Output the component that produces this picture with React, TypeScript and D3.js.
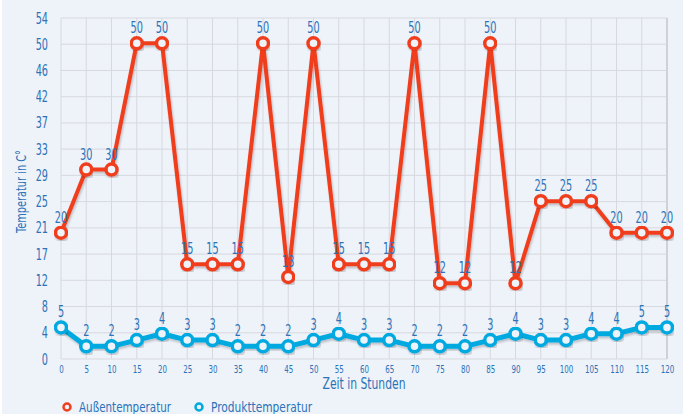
import { useEffect, useRef } from 'react';
import * as d3 from 'd3';

const hours = [0, 5, 10, 15, 20, 25, 30, 35, 40, 45, 50, 55, 60, 65, 70, 75, 80, 85, 90, 95, 100, 105, 110, 115, 120];
const aussen = [20, 30, 30, 50, 50, 15, 15, 15, 50, 13, 50, 15, 15, 15, 50, 12, 12, 50, 12, 25, 25, 25, 20, 20, 20];
const produkt = [5, 2, 2, 3, 4, 3, 3, 2, 2, 2, 3, 4, 3, 3, 2, 2, 2, 3, 4, 3, 3, 4, 4, 5, 5];
const yTickLabels = ['0', '4', '8', '12', '17', '21', '25', '29', '33', '37', '42', '46', '50', '54'];
const seriesNames = ['Außentemperatur', 'Produkttemperatur'];
const seriesColors = ['#f03e1f', '#00a9e0'];

const FONT = "'DejaVu Sans Condensed', 'Liberation Sans Narrow', 'Roboto', sans-serif";
const TEXT = '#2b73b8';
const SX = 0.72; // squeeze to mimic the condensed face

function App() {
  const ref = useRef<SVGSVGElement>(null);

  useEffect(() => {
    const W = 686, H = 414;
    const margin = { top: 18, right: 19, bottom: 55, left: 61 };
    const width = W - margin.left - margin.right;
    const height = H - margin.top - margin.bottom;

    const svg = d3.select(ref.current);
    svg.selectAll('*').remove();

    svg.append('rect').attr('width', W).attr('height', H).attr('fill', '#ffffff');
    svg.append('rect').attr('x', 2).attr('width', 681).attr('height', H).attr('fill', '#eef2f9');

    const defs = svg.append('defs');
    defs.append('filter').attr('id', 'shadow').attr('x', '-10%').attr('y', '-10%').attr('width', '120%').attr('height', '130%')
      .append('feDropShadow').attr('dx', 1).attr('dy', 2).attr('stdDeviation', 1.2).attr('flood-color', '#000').attr('flood-opacity', 0.22);

    const g = svg.append('g').attr('transform', `translate(${margin.left}, ${margin.top})`);

    const x = d3.scaleLinear().domain([0, 120]).range([0, width]);
    const y = d3.scaleLinear().domain([0, 54]).range([height, 0]);
    const yTickVals = yTickLabels.map((_, i) => (i * 54) / (yTickLabels.length - 1));

    // grid
    g.append('g').selectAll('line').data(hours).join('line')
      .attr('x1', (d) => x(d)).attr('x2', (d) => x(d)).attr('y1', 0).attr('y2', height)
      .attr('stroke', '#d7d9de').attr('stroke-width', 1);
    g.append('g').selectAll('line').data(yTickVals).join('line')
      .attr('x1', 0).attr('x2', width).attr('y1', (d) => y(d)).attr('y2', (d) => y(d))
      .attr('stroke', '#d7d9de').attr('stroke-width', 1);
    g.append('line').attr('x1', width).attr('x2', width).attr('y1', 0).attr('y2', height)
      .attr('stroke', '#cfd1d6').attr('stroke-width', 2);

    // axes
    const xAxis = g.append('g').attr('transform', `translate(0, ${height})`)
      .call(d3.axisBottom(x).tickValues(hours).tickSize(0).tickPadding(0).tickFormat((d) => String(d)));
    xAxis.select('.domain').remove();
    xAxis.selectAll('text').attr('y', null).attr('dy', null)
      .attr('transform', `translate(0, 14) scale(${SX}, 1)`)
      .attr('fill', TEXT).attr('font-size', 11).attr('font-family', FONT);

    const yAxis = g.append('g')
      .call(d3.axisLeft(y).tickValues(yTickVals).tickSize(0).tickPadding(0).tickFormat((_, i) => yTickLabels[i]));
    yAxis.select('.domain').remove();
    yAxis.selectAll('text').attr('x', null).attr('dy', null)
      .attr('transform', `translate(-13, 5) scale(${SX}, 1)`)
      .attr('fill', TEXT).attr('font-size', 15).attr('font-family', FONT);

    g.append('text').attr('x', width / 2).attr('y', height + 30).attr('text-anchor', 'middle')
      .attr('textLength', 83).attr('lengthAdjust', 'spacingAndGlyphs')
      .attr('fill', TEXT).attr('font-size', 15).attr('font-family', FONT).text('Zeit in Stunden');
    g.append('text').attr('transform', `translate(${26 - margin.left}, ${height / 2 + 3}) rotate(-90)`)
      .attr('text-anchor', 'middle').attr('textLength', 83).attr('lengthAdjust', 'spacingAndGlyphs')
      .attr('fill', TEXT).attr('font-size', 14).attr('font-family', FONT)
      .text('Temperatur in C°');

    const series = [aussen, produkt];
    const line = d3.line<number>().x((_, i) => x(hours[i])).y((d) => y(d));

    series.forEach((vals, s) => {
      const sg = g.append('g');
      sg.append('path').datum(vals).attr('d', line).attr('fill', 'none')
        .attr('stroke', seriesColors[s]).attr('stroke-width', s === 0 ? 4 : 5)
        .attr('stroke-linejoin', 'round').attr('filter', 'url(#shadow)');
      sg.selectAll('circle').data(vals).join('circle')
        .attr('cx', (_, i) => x(hours[i])).attr('cy', (d) => y(d)).attr('r', 5.5)
        .attr('fill', '#eef2f9').attr('stroke', seriesColors[s]).attr('stroke-width', 3.5)
        .attr('filter', 'url(#shadow)');
      sg.selectAll('text').data(vals).join('text')
        .attr('transform', (d, i) => `translate(${x(hours[i])}, ${y(d) - 10}) scale(${SX}, 1)`)
        .attr('text-anchor', 'middle').attr('fill', TEXT).attr('font-size', 15).attr('font-family', FONT)
        .text((d) => d);
    });

    // legend
    const legendX = [67, 199];
    const legendLen = [92, 101];
    const leg = svg.append('g');
    seriesNames.forEach((name, i) => {
      leg.append('circle').attr('cx', legendX[i]).attr('cy', 407).attr('r', 3.5)
        .attr('fill', '#eef2f9').attr('stroke', seriesColors[i]).attr('stroke-width', 2.5);
      leg.append('text').attr('x', legendX[i] + 12).attr('y', 412).attr('fill', TEXT)
        .attr('textLength', legendLen[i]).attr('lengthAdjust', 'spacingAndGlyphs')
        .attr('font-size', 14).attr('font-family', FONT).text(name);
    });
  }, []);

  return (
    <div style={{ position: 'absolute', left: 0, top: 0 }}>
      <svg ref={ref} width={686} height={414} style={{ display: 'block' }} />
    </div>
  );
}

export default App;
